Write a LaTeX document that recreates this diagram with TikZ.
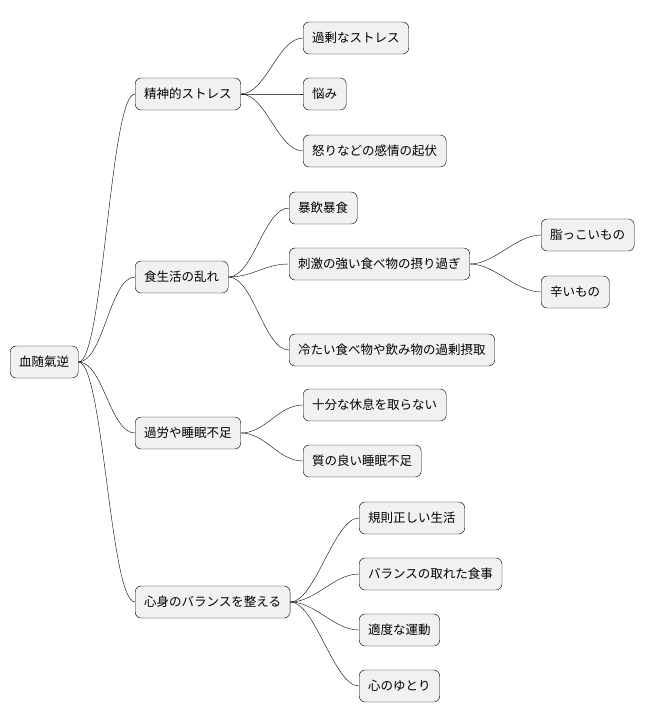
\documentclass[tikz,border=0pt]{standalone}
\usepackage{fontspec}
\setmainfont{Noto Sans CJK JP}
\usetikzlibrary{positioning}

\begin{document}
\begin{tikzpicture}[
        x=1pt, y=-1pt,
        topic/.style={
            draw, fill={rgb,255:red,241;green,241;blue,241}, rounded corners=6pt,
            minimum height=32pt, inner xsep=9pt, anchor=west,
            font=\fontsize{12.5}{14}\selectfont
        },
        link/.style={
            thin
        }
    ]
    \useasboundingbox (0,0) rectangle (656,724);

    % root and first level
    \node[topic] (root) at (10,362) {血随氣逆};
    \node[topic] (stress) at (135,94) {精神的ストレス};
    \node[topic] (diet) at (135,277) {食生活の乱れ};
    \node[topic] (fatigue) at (135,433) {過労や睡眠不足};
    \node[topic] (balance) at (135,602) {心身のバランスを整える};

    % second level
    \node[topic] (excess) at (303,38) {過剰なストレス};
    \node[topic] (worry) at (303,94) {悩み};
    \node[topic] (anger) at (303,151) {怒りなどの感情の起伏};
    \node[topic] (binge) at (289,208) {暴飲暴食};
    \node[topic] (spicy) at (289,264) {刺激の強い食べ物の摂り過ぎ};
    \node[topic] (cold) at (289,350) {冷たい食べ物や飲み物の過剰摂取};
    \node[topic] (rest) at (303,405) {十分な休息を取らない};
    \node[topic] (sleep) at (303,461) {質の良い睡眠不足};
    \node[topic] (regular) at (359,518) {規則正しい生活};
    \node[topic] (meal) at (359,574) {バランスの取れた食事};
    \node[topic] (exercise) at (359,630) {適度な運動};
    \node[topic] (mind) at (359,686) {心のゆとり};

    % third level
    \node[topic] (oily) at (541,235) {脂っこいもの};
    \node[topic] (hot) at (541,292) {辛いもの};

    \foreach \p/\c in {root/stress, root/diet, root/fatigue, root/balance,
            stress/excess, stress/worry, stress/anger,
            diet/binge, diet/spicy, diet/cold,
            fatigue/rest, fatigue/sleep,
            balance/regular, balance/meal, balance/exercise, balance/mind,
            spicy/oily, spicy/hot}
        \draw[link] (\p.east) .. controls +(25,0) and +(-25,0) .. (\c.west);
\end{tikzpicture}
\end{document}
